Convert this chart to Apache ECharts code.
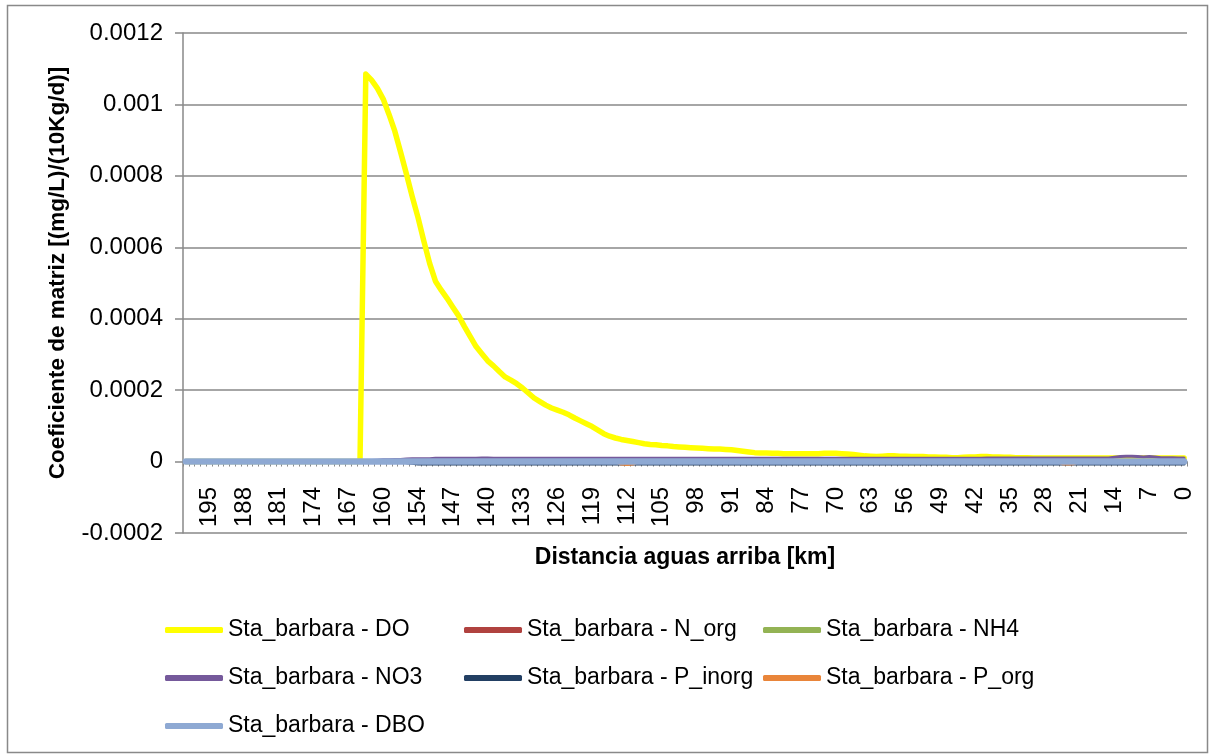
<!DOCTYPE html>
<html>
<head>
<meta charset="utf-8">
<script src="https://cdn.jsdelivr.net/npm/echarts@6/dist/echarts.min.js"></script>
<style>
  html, body { margin: 0; padding: 0; background: #ffffff; }
  #chart { width: 1215px; height: 754px; }
</style>
</head>
<body>
<div id="chart"></div>
<script>
// Distance upstream of each computation element [km]
const kmValues = [
  199.7, 198.5, 197.3, 196.2, 195.0, 193.8, 192.7, 191.5, 190.3, 189.2,
  188.0, 186.8, 185.7, 184.5, 183.3, 182.2, 181.0, 179.8, 178.7, 177.5,
  176.3, 175.2, 174.0, 172.8, 171.7, 170.5, 169.3, 168.2, 167.0, 165.8,
  164.7, 163.5, 162.3, 161.2, 160.0, 159.0, 158.0, 157.0, 156.0, 155.0,
  154.0, 152.8, 151.7, 150.5, 149.3, 148.2, 147.0, 145.8, 144.7, 143.5,
  142.3, 141.2, 140.0, 138.8, 137.7, 136.5, 135.3, 134.2, 133.0, 131.8,
  130.7, 129.5, 128.3, 127.2, 126.0, 124.8, 123.7, 122.5, 121.3, 120.2,
  119.0, 117.8, 116.7, 115.5, 114.3, 113.2, 112.0, 110.8, 109.7, 108.5,
  107.3, 106.2, 105.0, 103.8, 102.7, 101.5, 100.3, 99.2, 98.0, 96.8,
  95.7, 94.5, 93.3, 92.2, 91.0, 89.8, 88.7, 87.5, 86.3, 85.2,
  84.0, 82.8, 81.7, 80.5, 79.3, 78.2, 77.0, 75.8, 74.7, 73.5,
  72.3, 71.2, 70.0, 68.8, 67.7, 66.5, 65.3, 64.2, 63.0, 61.8,
  60.7, 59.5, 58.3, 57.2, 56.0, 54.8, 53.7, 52.5, 51.3, 50.2,
  49.0, 47.8, 46.7, 45.5, 44.3, 43.2, 42.0, 40.8, 39.7, 38.5,
  37.3, 36.2, 35.0, 33.8, 32.7, 31.5, 30.3, 29.2, 28.0, 26.8,
  25.7, 24.5, 23.3, 22.2, 21.0, 19.8, 18.7, 17.5, 16.3, 15.2,
  14.0, 12.8, 11.7, 10.5, 9.3, 8.2, 7.0, 5.8, 4.7, 3.5,
  2.3, 1.2, 0.0
];

// Matrix coefficients [(mg/L)/(10Kg/d)] per element
const doValues = [
  0, 0, 0, 0, 0, 0, 0, 0, 0, 0,
  0, 0, 0, 0, 0, 0, 0, 0, 0, 0,
  0, 0, 0, 0, 0, 0, 0, 0, 0, 0,
  0, 0.001085, 0.001068, 0.001045, 0.001015, 0.000972, 0.000925, 0.000866, 0.000805, 0.000742,
  0.000683, 0.000617, 0.000555, 0.000505, 0.000480, 0.000457, 0.000432, 0.000408, 0.000378, 0.000350,
  0.000322, 0.000302, 0.000282, 0.000268, 0.000252, 0.000237, 0.000228, 0.000218, 0.000206, 0.000192,
  0.000178, 0.000168, 0.000158, 0.000150, 0.000144, 0.000138, 0.000131, 0.000122, 0.000114, 0.000106,
  0.000098, 0.000088, 0.000078, 0.000071, 0.000066, 0.000062, 0.000059, 0.000056, 0.000053, 0.000050,
  0.000048, 0.000047, 0.000045, 0.000044, 0.000042, 0.000041, 0.000040, 0.000039, 0.000038, 0.000037,
  0.000036, 0.000035, 0.000035, 0.000034, 0.000033, 0.000031, 0.000029, 0.000027, 0.000025, 0.000024,
  0.000024, 0.000023, 0.000023, 0.000022, 0.000022, 0.000022, 0.000022, 0.000022, 0.000022, 0.000022,
  0.000023, 0.000023, 0.000023, 0.000022, 0.000021, 0.000020, 0.000018, 0.000016, 0.000015, 0.000014,
  0.000015, 0.000016, 0.000016, 0.000015, 0.000015, 0.000014, 0.000014, 0.000014, 0.000013, 0.000013,
  0.000012, 0.000012, 0.000011, 0.000011, 0.000012, 0.000013, 0.000013, 0.000014, 0.000014, 0.000013,
  0.000013, 0.000012, 0.000012, 0.000011, 0.000011, 0.000011, 0.000010, 0.000010, 0.000010, 0.000010,
  0.000010, 0.000010, 0.000010, 0.000010, 0.000010, 0.000010, 0.000010, 0.000010, 0.000010, 0.000010,
  0.000010, 0.000010, 0.000010, 0.000010, 0.000010, 0.000010, 0.000010, 0.000010, 0.000010, 0.000010,
  0.000010, 0.000010, 0.000010
];

const nOrgValues = [
  0, 0, 0, 0, 0, 0, 0, 0, 0, 0,  0, 0, 0, 0, 0, 0, 0, 0, 0, 0,
  0, 0, 0, 0, 0, 0, 0, 0, 0, 0,  0, 0, 0, 0, 0, 0, 0, 0, 0, 0,
  0, 0, 0, 0, 0, 0, 0, 0, 0, 0,  0, 0, 0, 0, 0, 0, 0, 0, 0, 0,
  0, 0, 0, 0, 0, 0, 0, 0, 0, 0,  0, 0, 0, 0, 0, 0, 0, 0, 0, 0,
  0, 0, 0, 0, 0, 0, 0, 0, 0, 0,  0, 0, 0, 0, 0, 0, 0, 0, 0, 0,
  0, 0, 0, 0, 0, 0, 0, 0, 0, 0,  0, 0, 0, 0, 0, 0, 0, 0, 0, 0,
  0, 0, 0, 0, 0, 0, 0, 0, 0, 0,  0, 0, 0, 0, 0, 0, 0, 0, 0, 0,
  0, 0, 0, 0, 0, 0, 0, 0, 0, 0,  0, 0, 0, 0, 0, 0, 0, 0, 0, 0,
  0, 0, 0, 0, 0, 0, 0, 0, 0, 0,  0, 0, 0
];

const nh4Values = [
  0, 0, 0, 0, 0, 0, 0, 0, 0, 0,  0, 0, 0, 0, 0, 0, 0, 0, 0, 0,
  0, 0, 0, 0, 0, 0, 0, 0, 0, 0,  0, 0, 0, 0, 0, 0, 0, 0, 0, 0,
  0, 0, 0, 0, 0, 0, 0, 0, 0, 0,  0, 0, 0, 0, 0, 0, 0, 0, 0, 0,
  0, 0, 0, 0, 0, 0, 0, 0, 0, 0,  0, 0, 0, 0, 0, 0, 0, 0, 0, 0,
  0, 0, 0, 0, 0, 0, 0, 0, 0, 0,  0, 0, 0, 0, 0, 0, 0, 0, 0, 0,
  0, 0, 0, 0, 0, 0, 0, 0, 0, 0,  0, 0, 0, 0, 0, 0, 0, 0, 0, 0,
  0, 0, 0, 0, 0, 0, 0, 0, 0, 0,  0, 0, 0, 0, 0, 0, 0, 0, 0, 0,
  0, 0, 0, 0, 0, 0, 0, 0, 0, 0,  0, 0, 0, 0, 0, 0, 0, 0, 0, 0,
  0, 0, 0, 0, 0, 0, 0, 0, 0, 0,  0, 0, 0
];

const no3Values = [
  0, 0, 0, 0, 0, 0, 0, 0, 0, 0,
  0, 0, 0, 0, 0, 0, 0, 0, 0, 0,
  0, 0, 0, 0, 0, 0, 0, 0, 0, 0,
  0, 0.000002, 0.000003, 0.000004, 0.000005, 0.000005, 0.000006, 0.000006, 0.000007, 0.000008,
  0.000008, 0.000008, 0.000008, 0.000009, 0.000009, 0.000009, 0.000009, 0.000009, 0.000009, 0.000009,
  0.000009, 0.000010, 0.000010, 0.000009, 0.000009, 0.000009, 0.000009, 0.000009, 0.000009, 0.000009,
  0.000009, 0.000009, 0.000009, 0.000009, 0.000009, 0.000009, 0.000009, 0.000009, 0.000009, 0.000009,
  0.000009, 0.000009, 0.000009, 0.000009, 0.000009, 0.000009, 0.000009, 0.000009, 0.000009, 0.000009,
  0.000009, 0.000009, 0.000009, 0.000009, 0.000009, 0.000009, 0.000009, 0.000009, 0.000009, 0.000009,
  0.000009, 0.000009, 0.000009, 0.000009, 0.000009, 0.000009, 0.000009, 0.000009, 0.000009, 0.000009,
  0.000009, 0.000009, 0.000009, 0.000009, 0.000009, 0.000009, 0.000009, 0.000009, 0.000009, 0.000009,
  0.000009, 0.000009, 0.000009, 0.000009, 0.000009, 0.000009, 0.000009, 0.000009, 0.000009, 0.000009,
  0.000009, 0.000009, 0.000009, 0.000009, 0.000009, 0.000009, 0.000009, 0.000009, 0.000009, 0.000009,
  0.000009, 0.000009, 0.000009, 0.000009, 0.000009, 0.000009, 0.000009, 0.000009, 0.000010, 0.000010,
  0.000010, 0.000010, 0.000010, 0.000010, 0.000010, 0.000010, 0.000010, 0.000010, 0.000010, 0.000010,
  0.000010, 0.000010, 0.000010, 0.000010, 0.000010, 0.000010, 0.000010, 0.000010, 0.000010, 0.000010,
  0.000012, 0.000014, 0.000015, 0.000015, 0.000014, 0.000013, 0.000014, 0.000013, 0.000011, 0.000011,
  0.000011, 0.000010, 0.000010
];

const pInorgValues = [
  0, 0, 0, 0, 0, 0, 0, 0, 0, 0,
  0, 0, 0, 0, 0, 0, 0, 0, 0, 0,
  0, 0, 0, 0, 0, 0, 0, 0, 0, 0,
  0, 0, 0, 0, 0, 0, 0, 0, -0.000003, -0.000005,
  -0.000007, -0.000007, -0.000007, -0.000007, -0.000007, -0.000007, -0.000007, -0.000007, -0.000007, -0.000007,
  -0.000007, -0.000007, -0.000007, -0.000007, -0.000007, -0.000007, -0.000007, -0.000007, -0.000007, -0.000007,
  -0.000007, -0.000007, -0.000007, -0.000007, -0.000007, -0.000007, -0.000007, -0.000007, -0.000007, -0.000007,
  -0.000007, -0.000007, -0.000007, -0.000007, -0.000007, -0.000007, -0.000007, -0.000007, -0.000007, -0.000007,
  -0.000007, -0.000007, -0.000007, -0.000007, -0.000007, -0.000007, -0.000007, -0.000007, -0.000007, -0.000007,
  -0.000007, -0.000007, -0.000007, -0.000007, -0.000007, -0.000007, -0.000007, -0.000007, -0.000007, -0.000007,
  -0.000007, -0.000007, -0.000007, -0.000007, -0.000007, -0.000007, -0.000007, -0.000007, -0.000007, -0.000007,
  -0.000007, -0.000007, -0.000007, -0.000007, -0.000007, -0.000007, -0.000007, -0.000007, -0.000007, -0.000007,
  -0.000007, -0.000007, -0.000007, -0.000007, -0.000007, -0.000007, -0.000007, -0.000007, -0.000007, -0.000007,
  -0.000007, -0.000007, -0.000007, -0.000007, -0.000007, -0.000007, -0.000007, -0.000007, -0.000007, -0.000007,
  -0.000007, -0.000007, -0.000007, -0.000007, -0.000007, -0.000007, -0.000007, -0.000007, -0.000007, -0.000007,
  -0.000007, -0.000007, -0.000007, -0.000007, -0.000007, -0.000007, -0.000007, -0.000007, -0.000007, -0.000007,
  -0.000007, -0.000007, -0.000007, -0.000007, -0.000007, -0.000007, -0.000007, -0.000007, -0.000007, -0.000007,
  -0.000007, -0.000007, -0.000007
];

const pOrgValues = [
  0, 0, 0, 0, 0, 0, 0, 0, 0, 0,  0, 0, 0, 0, 0, 0, 0, 0, 0, 0,
  0, 0, 0, 0, 0, 0, 0, 0, 0, 0,  0, 0, 0, 0, 0, 0, 0, 0, 0, 0,
  0, 0, 0, 0, 0, 0, 0, 0, 0, 0,  0, 0, 0, 0, 0, 0, 0, 0, 0, 0,
  0, 0, 0, 0, 0, 0, 0, 0, 0, 0,  0, 0, 0, 0, 0, -0.000007, -0.000008, -0.000007, 0, 0,
  0, 0, 0, 0, 0, 0, 0, 0, 0, 0,  0, 0, 0, 0, 0, 0, 0, 0, 0, 0,
  0, 0, 0, 0, 0, 0, 0, 0, 0, 0,  0, 0, 0, 0, 0, 0, 0, 0, 0, 0,
  0, 0, 0, 0, 0, 0, 0, 0, 0, 0,  0, 0, 0, 0, 0, 0, 0, 0, 0, 0,
  0, 0, 0, 0, 0, 0, 0, 0, 0, 0,  0, -0.000006, -0.000007, -0.000006, 0, 0, 0, 0, 0, 0,
  0, 0, 0, 0, 0, 0, 0, 0, 0, 0,  0, 0, 0
];

const dboValues = [
  0, 0, 0, 0, 0, 0, 0, 0, 0, 0,  0, 0, 0, 0, 0, 0, 0, 0, 0, 0,
  0, 0, 0, 0, 0, 0, 0, 0, 0, 0,  0, 0, 0, 0, 0, 0, 0, 0, 0, 0,
  0, 0, 0, 0, 0, 0, 0, 0, 0, 0,  0, 0, 0, 0, 0, 0, 0, 0, 0, 0,
  0, 0, 0, 0, 0, 0, 0, 0, 0, 0,  0, 0, 0, 0, 0, 0, 0, 0, 0, 0,
  0, 0, 0, 0, 0, 0, 0, 0, 0, 0,  0, 0, 0, 0, 0, 0, 0, 0, 0, 0,
  0, 0, 0, 0, 0, 0, 0, 0, 0, 0,  0, 0, 0, 0, 0, 0, 0, 0, 0, 0,
  0, 0, 0, 0, 0, 0, 0, 0, 0, 0,  0, 0, 0, 0, 0, 0, 0, 0, 0, 0,
  0, 0, 0, 0, 0, 0, 0, 0, 0, 0,  0, 0, 0, 0, 0, 0, 0, 0, 0, 0,
  0, 0, 0, 0, 0, 0, 0, 0, 0, 0,  0, 0, 0
];

// Series names, colours and stroke widths
const seriesNames = [
  'Sta_barbara - DO', 'Sta_barbara - N_org', 'Sta_barbara - NH4', 'Sta_barbara - NO3',
  'Sta_barbara - P_inorg', 'Sta_barbara - P_org', 'Sta_barbara - DBO'
];
const seriesColors = ['#FFFF00', '#B0423F', '#93B354', '#75599B', '#223F63', '#E9853A', '#8EA9D3'];
const seriesWidths = [5.5, 3, 3, 3, 3, 3, 6.5];
const seriesData = [doValues, nOrgValues, nh4Values, no3Values, pInorgValues, pOrgValues, dboValues];

// Y axis range
const yMin = -0.0002, yMax = 0.0012, yStep = 0.0002;

const FONT = 'Liberation Sans, Arial, sans-serif';
const GRID_GRAY = '#898989';

const chart = echarts.init(document.getElementById('chart'), null, { renderer: 'canvas' });

const series = seriesNames.map((name, i) => ({
  name,
  type: 'line',
  data: seriesData[i],
  symbol: 'none',
  showSymbol: false,
  animation: false,
  color: seriesColors[i],
  lineStyle: { width: seriesWidths[i], color: seriesColors[i], cap: 'round', join: 'round' },
  z: 2 + i
}));

function legendColumn(names, left) {
  return {
    orient: 'vertical',
    left: left,
    top: 618,
    padding: 0,
    data: names,
    icon: 'roundRect',
    itemWidth: 58,
    itemHeight: 6,
    itemGap: 24,
    textStyle: { fontFamily: FONT, fontSize: 23, color: '#000', lineHeight: 24 },
    selectedMode: false
  };
}

chart.setOption({
  animation: false,
  backgroundColor: '#ffffff',
  grid: { left: 183, right: 28, top: 33, bottom: 221, containLabel: false },
  legend: [
    legendColumn([seriesNames[0], seriesNames[3], seriesNames[6]], 165),
    legendColumn([seriesNames[1], seriesNames[4]], 464),
    legendColumn([seriesNames[2], seriesNames[5]], 763)
  ],
  xAxis: {
    type: 'category',
    data: kmValues,
    boundaryGap: true,
    name: 'Distancia aguas arriba [km]',
    nameLocation: 'middle',
    nameGap: 13,
    nameMoveOverlap: false,
    nameTextStyle: { fontFamily: FONT, fontSize: 23, fontWeight: 'bold', color: '#000' },
    axisLine: { show: true, onZero: true, lineStyle: { color: GRID_GRAY, width: 1.5 } },
    axisTick: { show: true, interval: 0, length: 5, lineStyle: { color: GRID_GRAY, width: 1 } },
    axisLabel: {
      interval: (idx) => idx >= 4 && (idx - 4) % 6 === 0,
      rotate: 90,
      margin: -46,
      fontFamily: FONT,
      fontSize: 24,
      color: '#000',
      formatter: (v) => String(Math.round(Number(v)))
    },
    splitLine: { show: false }
  },
  yAxis: {
    type: 'value',
    min: yMin,
    max: yMax,
    interval: yStep,
    name: 'Coeficiente de matriz [(mg/L)/(10Kg/d)]',
    nameLocation: 'middle',
    nameGap: 114,
    nameMoveOverlap: false,
    nameTextStyle: { fontFamily: FONT, fontSize: 22.5, fontWeight: 'bold', color: '#000', padding: [0, 0, 0, 20] },
    axisLine: { show: true, onZero: false, lineStyle: { color: GRID_GRAY, width: 1.5 } },
    axisTick: { show: true, length: 8, lineStyle: { color: GRID_GRAY, width: 1.5 } },
    axisLabel: {
      margin: 20,
      fontFamily: FONT,
      fontSize: 24,
      color: '#000',
      formatter: (v) => String(parseFloat(v.toFixed(4)))
    },
    splitLine: { show: true, lineStyle: { color: GRID_GRAY, width: 1.5 } }
  },
  graphic: [{
    type: 'rect',
    shape: { x: 7.5, y: 5.5, width: 1200, height: 747 },
    style: { fill: 'none', stroke: GRID_GRAY, lineWidth: 1.5 },
    silent: true,
    z: 0
  }],
  series
});
</script>
</body>
</html>
